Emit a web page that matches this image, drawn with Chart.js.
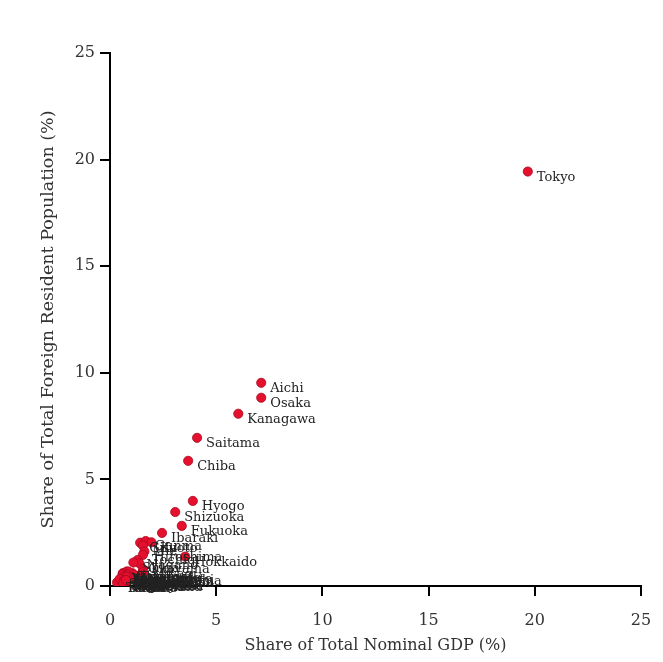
<!DOCTYPE html>
<html>
<head>
<meta charset="utf-8">
<script src="https://cdn.jsdelivr.net/npm/chart.js@4.4.1/dist/chart.umd.min.js"></script>
<style>
  html, body { margin: 0; padding: 0; background: #fff; }
  #wrap { width: 663px; height: 662px; }
</style>
</head>
<body>
<div id="wrap"><canvas id="chartGdp" width="663" height="662"></canvas></div>
<script>
// Data prefektur: share GDP nominal (%) vs share penduduk asing (%)
const prefectures = [
  'Tokyo', 'Aichi', 'Osaka', 'Kanagawa', 'Saitama', 'Chiba', 'Hyogo', 'Shizuoka', 'Fukuoka', 'Ibaraki',
  'Hokkaido', 'Gifu', 'Gunma', 'Kyoto', 'Mie', 'Hiroshima', 'Tochigi', 'Nagano', 'Okayama', 'Shiga',
  'Miyagi', 'Niigata', 'Fukushima', 'Yamanashi', 'Kumamoto', 'Yamaguchi', 'Nara', 'Okinawa', 'Toyama', 'Ishikawa',
  'Fukui', 'Kagawa', 'Ehime', 'Kagoshima', 'Nagasaki', 'Oita', 'Miyazaki', 'Saga', 'Tokushima', 'Kochi',
  'Tottori', 'Shimane', 'Wakayama', 'Aomori', 'Iwate', 'Akita', 'Yamagata'
];
const gdpShare = [
  19.67, 7.12, 7.12, 6.04, 4.10, 3.68, 3.90, 3.07, 3.38, 2.45,
  3.54, 1.42, 1.68, 1.95, 1.55, 1.62, 1.55, 1.30, 1.38, 1.10,
  1.55, 1.55, 1.40, 0.60, 1.05, 1.10, 0.70, 0.78, 0.86, 0.80,
  0.60, 0.70, 0.91, 1.05, 0.80, 0.78, 0.66, 0.53, 0.56, 0.43,
  0.33, 0.46, 0.65, 0.78, 0.84, 0.63, 0.75
];
const foreignShare = [
  19.44, 9.53, 8.83, 8.08, 6.95, 5.87, 3.99, 3.47, 2.82, 2.49,
  1.38, 2.03, 2.11, 2.05, 1.90, 1.62, 1.46, 1.22, 1.07, 1.10,
  0.80, 0.65, 0.50, 0.60, 0.60, 0.55, 0.48, 0.68, 0.68, 0.55,
  0.55, 0.46, 0.43, 0.40, 0.33, 0.44, 0.26, 0.25, 0.21, 0.17,
  0.17, 0.33, 0.25, 0.22, 0.25, 0.15, 0.28
];
const axisTicks = [0, 5, 10, 15, 20, 25];

const serif = "'DejaVu Serif', 'Liberation Serif', serif";

// Plugin label nama prefektur di samping titik
const pointLabels = {
  id: 'pointLabels',
  afterDatasetsDraw(chart) {
    const c = chart.ctx;
    const meta = chart.getDatasetMeta(0);
    c.save();
    c.font = '13px ' + serif;
    c.fillStyle = '#222';
    c.textBaseline = 'middle';
    meta.data.forEach((pt, i) => {
      c.fillText(prefectures[i], pt.x + 9, pt.y + 6);
    });
    c.restore();
  }
};

const ctx = document.getElementById('chartGdp').getContext('2d');
const chart = new Chart(ctx, {
  type: 'scatter',
  data: {
    datasets: [{
      label: 'Prefecture',
      data: gdpShare.map((g, i) => ({ x: g, y: foreignShare[i] })),
      backgroundColor: '#e5102e',
      borderColor: '#a8081f',
      borderWidth: 0.8,
      pointRadius: 4.6
    }]
  },
  options: {
    responsive: false,
    animation: false,
    layout: { padding: { top: 53, right: 22, left: 30, bottom: 0 } },
    plugins: {
      legend: { display: false },
      tooltip: { enabled: false }
    },
    scales: {
      x: {
        type: 'linear',
        min: 0, max: 25,
        afterBuildTicks: s => { s.ticks = axisTicks.map(v => ({ value: v })); },
        afterFit: s => { s.height = 76; s.paddingRight = 0; s.paddingLeft = 0; },
        border: { color: '#000', width: 2 },
        grid: { drawOnChartArea: false, color: '#000', lineWidth: 2, tickLength: 10 },
        ticks: { color: '#333', font: { family: serif, size: 16 }, padding: 15 },
        title: { display: true, text: 'Share of Total Nominal GDP (%)', color: '#333', font: { family: serif, size: 16 }, padding: { top: 0, bottom: 7 } }
      },
      y: {
        type: 'linear',
        min: 0, max: 25,
        afterBuildTicks: s => { s.ticks = axisTicks.map(v => ({ value: v })); },
        afterFit: s => { s.width = 80; },
        border: { color: '#000', width: 2 },
        grid: { drawOnChartArea: false, color: '#000', lineWidth: 2, tickLength: 10 },
        ticks: { color: '#333', font: { family: serif, size: 16 }, padding: 5 },
        title: { display: true, text: 'Share of Total Foreign Resident Population (%)', color: '#333', font: { family: serif, size: 17.5 }, padding: { top: 8, bottom: 0 } }
      }
    }
  },
  plugins: [pointLabels]
});
</script>
</body>
</html>
